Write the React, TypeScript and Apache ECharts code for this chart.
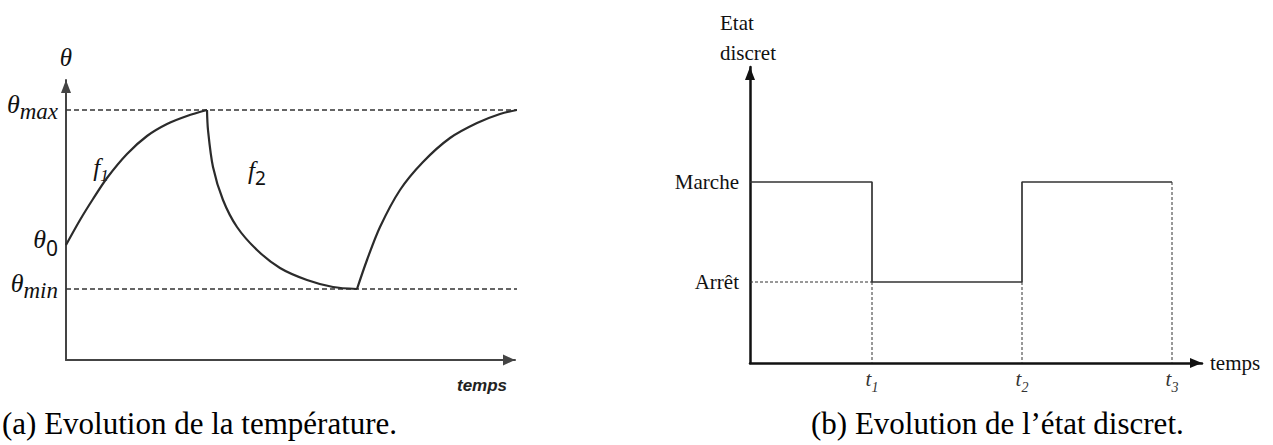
import { useEffect, useRef } from "react";
import * as echarts from "echarts";

// ---- (a) temperature curve, time in px-like units from the origin ----
// heating branch f1 : θ0 -> θmax
const heatTime = [0, 14, 27, 41, 61, 81, 101, 121, 141];
const heatTemp = [115, 140, 161, 182, 206, 224, 236, 244, 250];
// cooling branch f2 : θmax -> θmin
const coolTime = [141, 142, 147, 157, 171, 191, 214, 241, 267, 291];
const coolTemp = [250, 230, 193, 160, 133, 110, 92, 80, 73, 71];
// second heating branch : θmin -> θmax
const reheatTime = [291, 301, 314, 334, 357, 384, 411, 434, 451];
const reheatTemp = [71, 100, 133, 170, 198, 222, 237, 246, 250];

// temperature thresholds and their subscripts
const thetaTicks = [71, 115, 250];
const thetaSubs = ["min", "0", "max"];
const thresholdEnd = 457;

// ---- (b) discrete state ----
const switchTimes = [12.2, 27.2, 42.2];
const switchNames = ["1", "2", "3"];
const stateLevels = [1, 2];
const stateNames = ["Arrêt", "Marche"];
const stepTimes = [0, 12.2, 12.2, 27.2, 27.2, 42.2];
const stepStates = [2, 2, 1, 1, 2, 2];
const axisMinState = 0.19;

const zip = (xs: number[], ys: number[]) => xs.map((x, i) => [x, ys[i]]);

const SERIF = "'Liberation Serif', 'Times New Roman', serif";

function buildOption(): echarts.EChartsOption {
  const dashed = (data: number[][], xi: number, color: string, width: number, dash: number[]) => ({
    type: "line" as const,
    xAxisIndex: xi,
    yAxisIndex: xi,
    data,
    symbol: "none",
    clip: false,
    silent: true,
    lineStyle: { color, width, type: dash },
    z: 1,
  });

  const guideData: number[][][] = [
    [[0, stateLevels[0]], [switchTimes[0], stateLevels[0]]],
    [[switchTimes[0], stateLevels[0]], [switchTimes[0], axisMinState]],
    [[switchTimes[1], stateLevels[0]], [switchTimes[1], axisMinState]],
    [[switchTimes[2], stateLevels[1]], [switchTimes[2], axisMinState]],
  ];

  return {
    animation: false,
    backgroundColor: "#ffffff",
    grid: [
      { left: 66, top: 80, width: 449, height: 280 },
      { left: 750, top: 67, width: 452, height: 296 },
    ],
    xAxis: [
      {
        type: "value",
        gridIndex: 0,
        min: 0,
        max: 449,
        splitLine: { show: false },
        axisTick: { show: false },
        axisLabel: { show: false },
        axisLine: {
          onZero: false,
          symbol: ["none", "triangle"],
          symbolSize: [11, 12],
          symbolOffset: [0, -6],
          lineStyle: { color: "#444", width: 2 },
        },
      },
      {
        type: "value",
        gridIndex: 1,
        min: 0,
        max: 45.2,
        splitLine: { show: false },
        axisTick: { show: false },
        name: "temps",
        nameLocation: "end",
        nameGap: 8,
        nameTextStyle: { fontFamily: SERIF, fontSize: 21, color: "#111", verticalAlign: "middle" },
        axisLabel: {
          customValues: switchTimes,
          margin: 9,
          formatter: (v: number) => `{t|t}{n|${switchNames[switchTimes.indexOf(v)]}}`,
          rich: {
            t: { fontFamily: SERIF, fontStyle: "italic", fontSize: 21, color: "#333", verticalAlign: "bottom", lineHeight: 22, padding: [0, 0, 5, 0] },
            n: { fontFamily: SERIF, fontStyle: "italic", fontSize: 14, color: "#333", verticalAlign: "bottom", lineHeight: 14 },
          },
        },
        axisLine: {
          onZero: false,
          symbol: ["none", "triangle"],
          symbolSize: [10, 12],
          symbolOffset: [0, -6],
          lineStyle: { color: "#111", width: 2.5 },
        },
      },
    ],
    yAxis: [
      {
        type: "value",
        gridIndex: 0,
        min: 0,
        max: 280,
        splitLine: { show: false },
        axisTick: { show: false },
        name: "θ",
        nameLocation: "end",
        nameGap: 10,
        nameTextStyle: { fontFamily: SERIF, fontStyle: "italic", fontSize: 25, color: "#111" },
        axisLabel: {
          customValues: thetaTicks,
          margin: 8,
          formatter: (v: number) => {
            const s = thetaSubs[thetaTicks.indexOf(v)];
            return s === "0" ? `{th|θ}{z|0}` : `{th|θ}{s|${s}}`;
          },
          rich: {
            th: { fontFamily: SERIF, fontStyle: "italic", fontSize: 26, color: "#111", verticalAlign: "bottom", lineHeight: 26, padding: [0, 0, 6, 0] },
            s: { fontFamily: SERIF, fontStyle: "italic", fontSize: 23, color: "#111", verticalAlign: "bottom", lineHeight: 24 },
            z: { fontFamily: "'Noto Sans', 'DejaVu Sans', sans-serif", fontSize: 21, color: "#111", verticalAlign: "bottom", lineHeight: 24 },
          },
        },
        axisLine: {
          onZero: false,
          symbol: ["none", "triangle"],
          symbolSize: [10, 13],
          symbolOffset: [0, -6.5],
          lineStyle: { color: "#444", width: 2 },
        },
      },
      {
        type: "value",
        gridIndex: 1,
        min: axisMinState,
        max: 3.15,
        splitLine: { show: false },
        axisTick: { show: false },
        axisLabel: {
          customValues: stateLevels,
          margin: 11,
          fontFamily: SERIF,
          fontSize: 21,
          color: "#111",
          formatter: (v: number) => stateNames[stateLevels.indexOf(v)],
        },
        axisLine: {
          onZero: false,
          symbol: ["none", "triangle"],
          symbolSize: [10, 13],
          symbolOffset: [0, -6.5],
          lineStyle: { color: "#111", width: 2.5 },
        },
      },
    ],
    series: [
      dashed([[0, thetaTicks[2]], [thresholdEnd, thetaTicks[2]]], 0, "#333", 1.7, [5, 3]),
      dashed([[0, thetaTicks[0]], [thresholdEnd, thetaTicks[0]]], 0, "#333", 1.7, [5, 3]),
      ...[heatTime, coolTime, reheatTime].map((xs, i) => ({
        type: "line" as const,
        name: ["f1", "f2", "f1'"][i],
        xAxisIndex: 0,
        yAxisIndex: 0,
        data: zip(xs, [heatTemp, coolTemp, reheatTemp][i]),
        smooth: 0.3,
        symbol: "none",
        clip: false,
        lineStyle: { color: "#2b2b2b", width: 2.2 },
        z: 3,
      })),
      ...guideData.map((d) => dashed(d, 1, "#333", 1, [3, 2])),
      {
        type: "line",
        name: "état",
        xAxisIndex: 1,
        yAxisIndex: 1,
        data: zip(stepTimes, stepStates),
        symbol: "none",
        lineStyle: { color: "#333", width: 1.7 },
        z: 3,
      },
    ],
    graphic: [
      {
        type: "text",
        left: 457,
        top: 377,
        style: {
          text: "temps",
          font: "italic bold 17px 'Liberation Sans Narrow', 'Liberation Sans', sans-serif",
          fill: "#222",
        },
      },
      {
        type: "text",
        x: 101,
        y: 172,
        style: {
          text: "{f|f}{n|1}",
          align: "center",
          verticalAlign: "middle",
          rich: {
            f: { fontFamily: SERIF, fontStyle: "italic", fontSize: 25, fill: "#111", verticalAlign: "bottom", lineHeight: 24, padding: [0, 0, 4, 0] },
            n: { fontFamily: SERIF, fontStyle: "italic", fontSize: 17, fill: "#111", verticalAlign: "bottom", lineHeight: 16 },
          },
        },
      },
      {
        type: "text",
        x: 257,
        y: 175,
        style: {
          text: "{f|f}{n|2}",
          align: "center",
          verticalAlign: "middle",
          rich: {
            f: { fontFamily: SERIF, fontStyle: "italic", fontSize: 25, fill: "#111", verticalAlign: "bottom", lineHeight: 24, padding: [0, 0, 4, 0] },
            n: { fontFamily: "'Noto Sans', 'DejaVu Sans', sans-serif", fontSize: 19, fill: "#111", verticalAlign: "bottom", lineHeight: 20 },
          },
        },
      },
      {
        type: "text",
        left: 720,
        top: 8,
        style: {
          text: "Etat\ndiscret",
          font: `21px ${SERIF}`,
          lineHeight: 30,
          fill: "#111",
        },
      },
      {
        type: "text",
        x: 2,
        y: 423,
        style: {
          text: "(a) Evolution de la température.",
          font: `31px ${SERIF}`,
          verticalAlign: "middle",
          fill: "#000",
        },
      },
      {
        type: "text",
        x: 811,
        y: 423,
        style: {
          text: "(b) Evolution de l’état discret.",
          font: `31px ${SERIF}`,
          verticalAlign: "middle",
          fill: "#000",
        },
      },
    ],
  };
}

export default function App() {
  const ref = useRef<HTMLDivElement>(null);
  useEffect(() => {
    if (!ref.current) return;
    const chart = echarts.init(ref.current, null, { renderer: "svg" });
    chart.setOption(buildOption());
    return () => chart.dispose();
  }, []);
  return (
    <div
      ref={ref}
      style={{ position: "absolute", left: 0, top: 0, width: 1273, height: 445, background: "#fff" }}
    />
  );
}
